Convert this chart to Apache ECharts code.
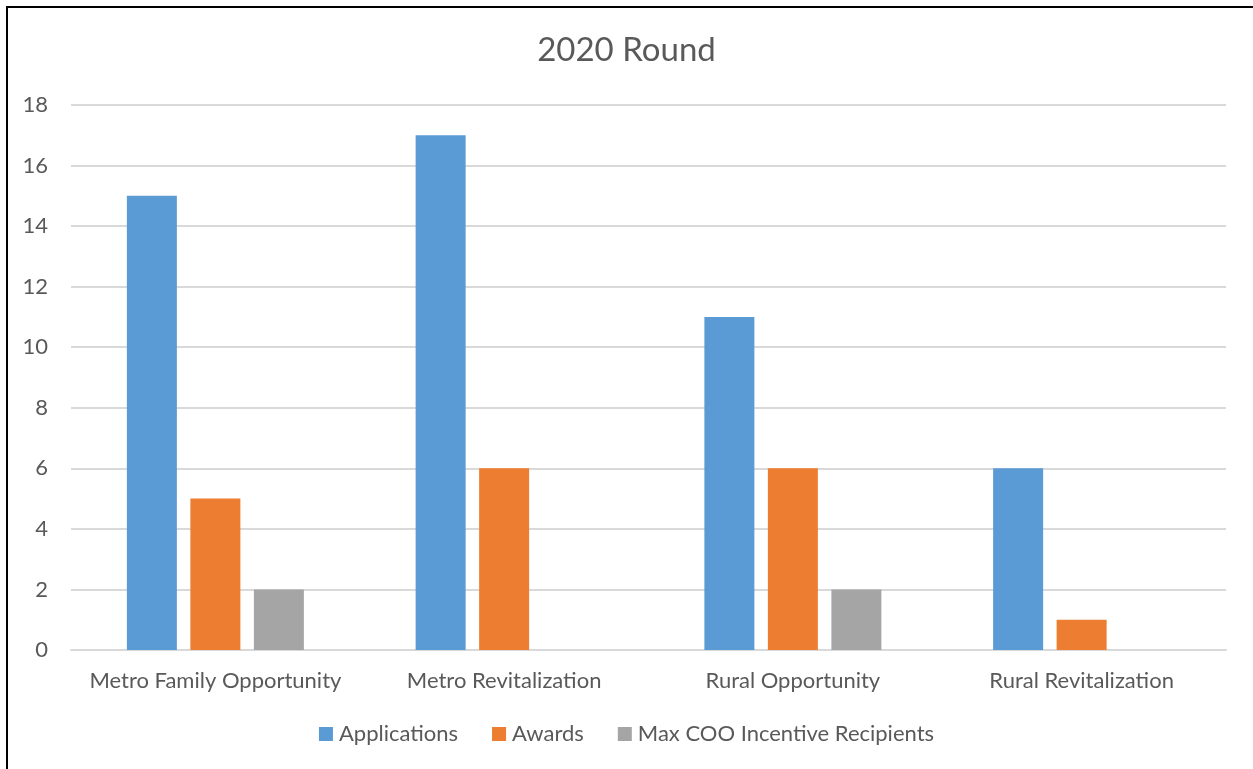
<!DOCTYPE html>
<html>
<head>
<meta charset="utf-8">
<script src="https://cdn.jsdelivr.net/npm/echarts@6/dist/echarts.min.js"></script>
<style>
  html, body { margin: 0; padding: 0; background: #fff; }
  #chart { width: 1253px; height: 769px; }
</style>
</head>
<body>
<div id="chart"></div>
<script>
// Program categories and counts for the 2020 round
const categories = ['Metro Family Opportunity', 'Metro Revitalization', 'Rural Opportunity', 'Rural Revitalization'];
const applications = [15, 17, 11, 6];
const awards = [5, 6, 6, 1];
const maxCooRecipients = [2, 0, 2, 0];
const seriesNames = ['Applications', 'Awards', 'Max COO Incentive Recipients'];
const seriesColors = ['#5b9bd5', '#ed7d31', '#a5a5a5'];

const FONT = 'Lato, "Open Sans", sans-serif';
const TEXT = '#595959';

const chart = echarts.init(document.getElementById('chart'), null, { renderer: 'canvas' });

function bar(name, data, color) {
  return {
    name: name,
    type: 'bar',
    data: data,
    barWidth: 50,
    barGap: '27%',
    itemStyle: { color: color }
  };
}

chart.setOption({
  animation: false,
  backgroundColor: '#fff',
  title: {
    text: '2020 Round',
    left: 'center',
    top: 29,
    textStyle: { fontFamily: FONT, fontSize: 33, fontWeight: 'normal', color: TEXT }
  },
  legend: {
    bottom: 19,
    left: 'center',
    itemWidth: 14,
    itemHeight: 14,
    itemGap: 34,
    icon: 'rect',
    textStyle: { fontFamily: FONT, fontSize: 22, color: TEXT, padding: [0, 0, 0, 1] },
    data: seriesNames
  },
  grid: { left: 71, right: 27, top: 105, bottom: 119 },
  xAxis: {
    type: 'category',
    data: categories,
    axisLine: { show: true, lineStyle: { color: '#d9d9d9', width: 2 } },
    axisTick: { show: false },
    axisLabel: { fontFamily: FONT, fontSize: 22, color: TEXT, margin: 20, interval: 0 }
  },
  yAxis: {
    type: 'value',
    min: 0,
    max: 18,
    interval: 2,
    axisLine: { show: false },
    axisTick: { show: false },
    splitLine: { lineStyle: { color: '#d9d9d9', width: 2 } },
    axisLabel: { fontFamily: FONT, fontSize: 22, color: TEXT, margin: 23 }
  },
  series: [
    bar(seriesNames[0], applications, seriesColors[0]),
    bar(seriesNames[1], awards, seriesColors[1]),
    bar(seriesNames[2], maxCooRecipients, seriesColors[2])
  ],
  graphic: [{
    type: 'polyline',
    shape: { points: [[7, 769], [7, 7], [1253, 7]] },
    style: { stroke: '#000', lineWidth: 2, fill: null },
    z: 100
  }]
});
</script>
</body>
</html>
